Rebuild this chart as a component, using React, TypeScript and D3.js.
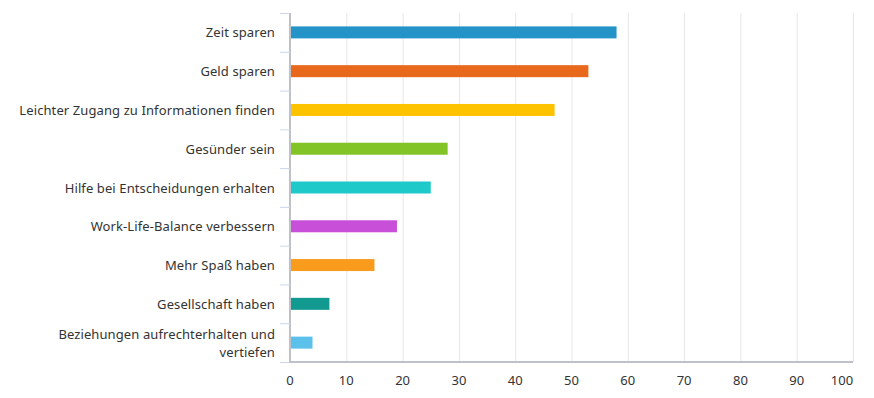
import React, { useRef, useEffect } from 'react';
import * as d3 from 'd3';

const categories = [
  'Zeit sparen',
  'Geld sparen',
  'Leichter Zugang zu Informationen finden',
  'Gesünder sein',
  'Hilfe bei Entscheidungen erhalten',
  'Work-Life-Balance verbessern',
  'Mehr Spaß haben',
  'Gesellschaft haben',
  'Beziehungen aufrechterhalten und vertiefen',
];
const values = [58, 53, 47, 28, 25, 19, 15, 7, 4];
const colors = [
  '#2393c8', '#e8681c', '#fdc300', '#82c326', '#1ec9c9',
  '#c84fd8', '#f99b1d', '#129a91', '#5cc1ea',
];
const xTicks = [0, 10, 20, 30, 40, 50, 60, 70, 80, 90, 100];

const width = 874;
const height = 398;
const margin = { top: 13, right: 21, bottom: 36, left: 290 };

export default function App() {
  const svgRef = useRef<SVGSVGElement>(null);

  useEffect(() => {
    const svg = d3.select(svgRef.current);
    svg.selectAll('*').remove();

    const x = d3
      .scaleLinear()
      .domain([0, 100])
      .range([margin.left, width - margin.right]);
    const y = d3
      .scaleBand()
      .domain(categories)
      .range([margin.top, height - margin.bottom]);

    const font = '"Noto Sans", sans-serif';

    // Gitterlinien
    svg
      .append('g')
      .selectAll('line')
      .data(xTicks.slice(1))
      .join('line')
      .attr('x1', (d) => x(d) + 0.5)
      .attr('x2', (d) => x(d) + 0.5)
      .attr('y1', margin.top)
      .attr('y2', height - margin.bottom)
      .attr('stroke', '#e6e6e6')
      .attr('stroke-width', 1);

    // Balken
    const barH = 12;
    svg
      .append('g')
      .selectAll('rect')
      .data(values)
      .join('rect')
      .attr('x', x(0))
      .attr('y', (d, i) => y(categories[i])! + y.bandwidth() / 2 - barH / 2)
      .attr('width', (d) => x(d) - x(0))
      .attr('height', barH)
      .attr('fill', (d, i) => colors[i]);

    // y-Achse
    svg
      .append('line')
      .attr('x1', x(0))
      .attr('x2', x(0))
      .attr('y1', margin.top)
      .attr('y2', height - margin.bottom)
      .attr('stroke', '#c0c0c8')
      .attr('stroke-width', 2);

    const bounds = categories.map((c) => y(c)!).concat([height - margin.bottom]);
    svg
      .append('g')
      .selectAll('line')
      .data(bounds)
      .join('line')
      .attr('x1', x(0) - 10)
      .attr('x2', x(0))
      .attr('y1', (d) => d + 0.5)
      .attr('y2', (d) => d + 0.5)
      .attr('stroke', '#ccd6eb')
      .attr('stroke-width', 1);

    // x-Achse
    svg
      .append('line')
      .attr('x1', x(0) - 1)
      .attr('x2', x(100))
      .attr('y1', height - margin.bottom)
      .attr('y2', height - margin.bottom)
      .attr('stroke', '#c0c0c8')
      .attr('stroke-width', 2);

    svg
      .append('g')
      .selectAll('text')
      .data(xTicks)
      .join('text')
      .attr('x', (d) => (d === 100 ? x(d) - 11 : x(d)))
      .attr('y', height - margin.bottom + 23)
      .attr('text-anchor', 'middle')
      .attr('font-family', font)
      .attr('font-size', '13px')
      .attr('fill', '#333')
      .text((d) => d);

    // Kategorien
    const labels = svg
      .append('g')
      .selectAll('text')
      .data(categories)
      .join('text')
      .attr('text-anchor', 'end')
      .attr('font-family', font)
      .attr('font-size', '13px')
      .attr('letter-spacing', '0.1px')
      .attr('fill', '#333');

    labels.each(function (c) {
      const t = d3.select(this);
      const cy = y(c)! + y.bandwidth() / 2;
      const lines =
        c === 'Beziehungen aufrechterhalten und vertiefen'
          ? ['Beziehungen aufrechterhalten und', 'vertiefen']
          : [c];
      lines.forEach((l, i) => {
        t.append('tspan')
          .attr('x', 275)
          .attr('y', cy + 5 + (i - (lines.length - 1) / 2) * 18)
          .text(l);
      });
    });
  }, []);

  return (
    <div style={{ position: 'absolute', left: 0, top: 0 }}>
      <svg ref={svgRef} width={width} height={height} xmlns="http://www.w3.org/2000/svg" />
    </div>
  );
}
